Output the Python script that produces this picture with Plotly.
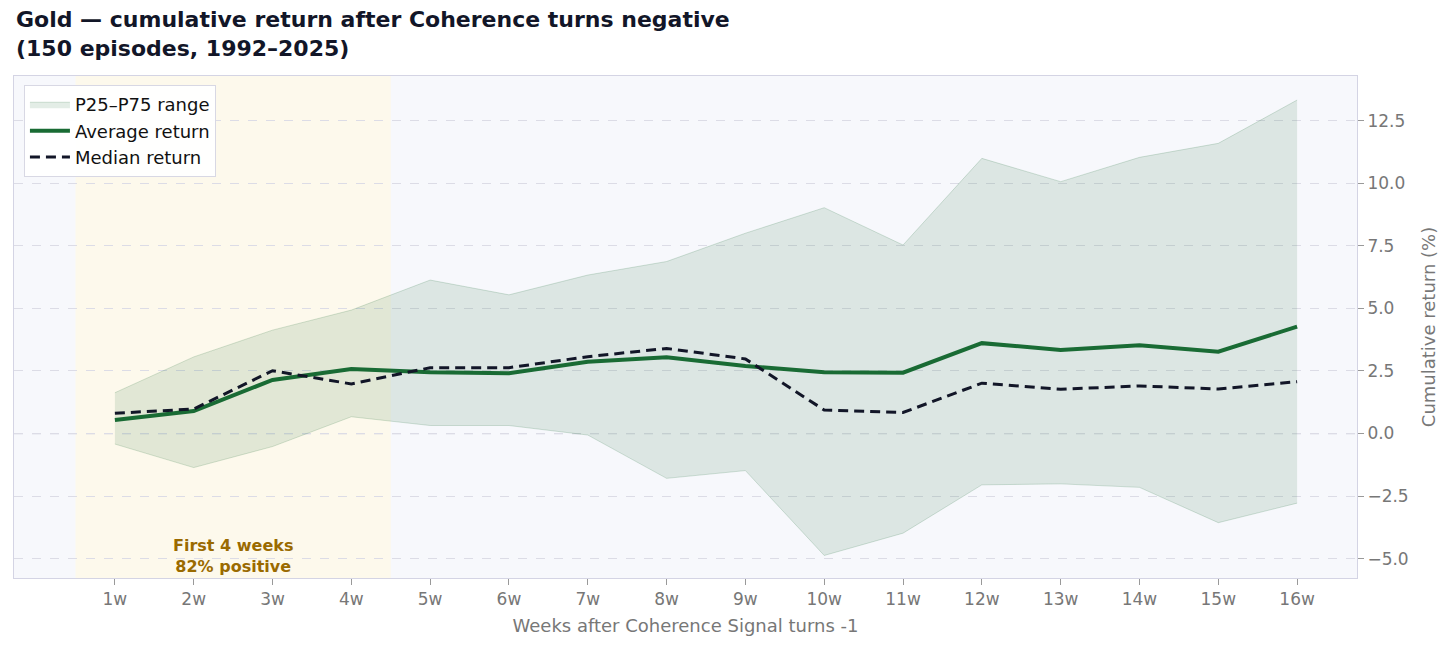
import plotly.graph_objects as go

# --- data ---
week_labels = ['1w', '2w', '3w', '4w', '5w', '6w', '7w', '8w',
               '9w', '10w', '11w', '12w', '13w', '14w', '15w', '16w']
weeks = [1, 2, 3, 4, 5, 6, 7, 8, 9, 10, 11, 12, 13, 14, 15, 16]

avg_return = [0.54, 0.90, 2.14, 2.58, 2.45, 2.41, 2.87, 3.05,
              2.70, 2.45, 2.43, 3.61, 3.34, 3.53, 3.27, 4.27]
median_return = [0.81, 0.98, 2.51, 1.98, 2.63, 2.63, 3.07, 3.40,
                 2.98, 0.94, 0.84, 2.01, 1.77, 1.90, 1.78, 2.07]
p25 = [-0.42, -1.36, -0.52, 0.67, 0.32, 0.32, -0.06, -1.79,
       -1.48, -4.87, -3.98, -2.05, -2.01, -2.15, -3.56, -2.78]
p75 = [1.63, 3.06, 4.13, 4.93, 6.13, 5.54, 6.33, 6.87,
       8.00, 9.02, 7.53, 10.99, 10.06, 11.03, 11.59, 13.32]

highlight_span = [0.5, 4.5]
highlight_text = "First 4 weeks<br>82% positive"
title_text = "Gold — cumulative return after Coherence turns negative<br>(150 episodes, 1992–2025)"

green = "#196b34"
navy = "#121628"
grey = "#777777"

fig = go.Figure()

# P25-P75 band
fig.add_trace(go.Scatter(x=weeks, y=p75, mode='lines',
                         line=dict(color='rgba(25,107,52,0.18)', width=1),
                         showlegend=False, hoverinfo='skip'))
fig.add_trace(go.Scatter(x=weeks, y=p25, mode='lines', fill='tonexty',
                         fillcolor='rgba(25,107,52,0.12)',
                         line=dict(color='rgba(25,107,52,0.18)', width=1),
                         name='P25–P75 range'))
fig.add_trace(go.Scatter(x=weeks, y=avg_return, mode='lines',
                         line=dict(color=green, width=4),
                         name='Average return'))
fig.add_trace(go.Scatter(x=weeks, y=median_return, mode='lines',
                         line=dict(color=navy, width=3, dash='10px,6px'),
                         name='Median return'))

# first-4-weeks highlight
fig.add_vrect(x0=highlight_span[0], x1=highlight_span[1],
              fillcolor='#fdf9ec', opacity=1, line_width=0, layer='below')
fig.add_hline(y=0, line=dict(color='#cfcfdc', width=1.2, dash='dash'), layer='below')
fig.add_annotation(x=(highlight_span[0] + highlight_span[1]) / 2, y=-4.9,
                   text=highlight_text, showarrow=False,
                   font=dict(family='DejaVu Sans', size=16, color='#9a6a00', weight='bold'),
                   align='center', yanchor='middle')

# title as a left-aligned annotation above the plot
fig.add_annotation(x=0, y=1.026, xref='paper', yref='paper', xanchor='left', yanchor='bottom',
                   text=title_text, showarrow=False, align='left',
                   font=dict(family='DejaVu Sans', size=22, color=navy, weight='bold'))

# page body adds 8px, so the figure is a bit smaller than the window
fig.update_layout(
    width=1448, height=642,
    margin=dict(l=6, r=99, t=68, b=72),
    paper_bgcolor='white',
    plot_bgcolor='#f7f8fc',
    font=dict(family='DejaVu Sans', color=grey, size=17),
    legend=dict(x=0.0074, y=0.982, xanchor='left', yanchor='top',
                bgcolor='rgba(255,255,255,0.95)', bordercolor='#d8d8e4', borderwidth=1,
                font=dict(size=18, color='#111111'), traceorder='normal',
                itemwidth=40),
    showlegend=True,
)

fig.update_xaxes(range=[-0.28, 16.76], tickvals=weeks, ticktext=week_labels,
                 showgrid=False, zeroline=False, ticks='outside', ticklen=6,
                 tickcolor='#999999', tickfont=dict(size=17, color=grey),
                 title=dict(text='Weeks after Coherence Signal turns -1',
                            font=dict(size=18, color=grey), standoff=10),
                 showline=True, linecolor='#d4d4e4', mirror=True)
fig.update_yaxes(range=[-5.77, 14.28], side='right', dtick=2.5, tick0=0,
                 tickformat='.1f', showgrid=True, gridcolor='#dcdce6', griddash='dash',
                 zeroline=False, ticks='outside', ticklen=6, tickcolor='#999999',
                 tickfont=dict(size=17, color=grey),
                 title=dict(text='Cumulative return (%)', font=dict(size=18, color=grey), standoff=14),
                 showline=True, linecolor='#d4d4e4', mirror=True)

fig.write_html("out.html")
